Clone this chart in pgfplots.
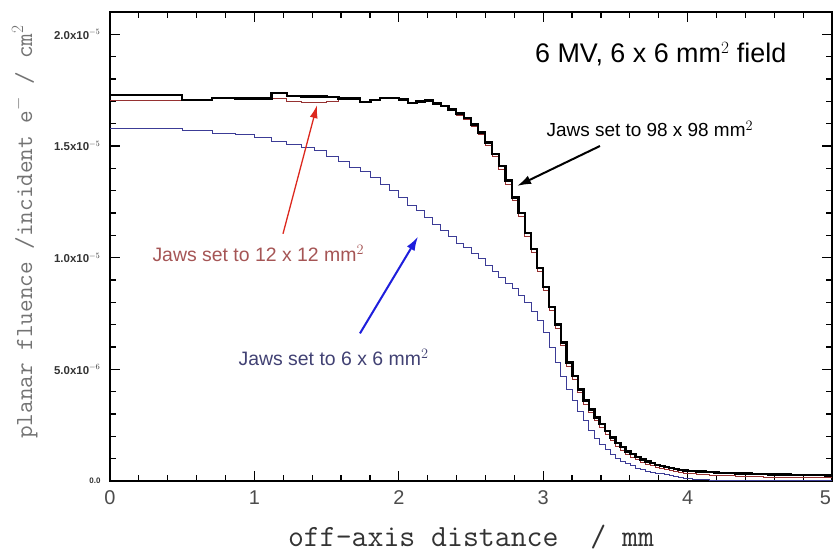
\documentclass[border=0pt]{standalone}
\usepackage{pgfplots}
\pgfplotsset{compat=1.18}
\usepackage{pgfplotstable}
\usepackage{fontspec}
\setmainfont{Liberation Sans}
\usetikzlibrary{arrows.meta,calc}
\definecolor{cred}{RGB}{150,50,50}
\definecolor{cblue}{RGB}{60,60,150}
\definecolor{ared}{RGB}{220,40,30}
\definecolor{ablue}{RGB}{30,30,220}
\definecolor{tred}{RGB}{165,85,85}
\definecolor{tblue}{RGB}{65,65,115}
\pgfplotstableread{
r B R U
0 1.728 1.705 1.580
0.5 1.705 1.705 1.570
0.7071 1.716 1.712 1.556
0.8660 1.713 1.710 1.552
1.0 1.713 1.710 1.537
1.1180 1.738 1.713 1.519
1.2247 1.723 1.700 1.505
1.3229 1.722 1.696 1.492
1.4142 1.722 1.696 1.478
1.5 1.720 1.698 1.455
1.5811 1.713 1.709 1.433
1.6583 1.713 1.709 1.405
1.7321 1.696 1.694 1.385
1.8028 1.705 1.702 1.36
1.8708 1.716 1.712 1.33
1.9365 1.716 1.712 1.30
2.0 1.708 1.704 1.27
2.0616 1.693 1.690 1.235
2.1213 1.700 1.696 1.21
2.1794 1.704 1.700 1.18
2.2361 1.690 1.686 1.15
2.2913 1.680 1.675 1.12
2.3452 1.664 1.658 1.095
2.3979 1.645 1.638 1.065
2.4495 1.625 1.617 1.045
2.5 1.597 1.588 1.02
2.5495 1.560 1.550 0.995
2.5981 1.515 1.503 0.965
2.6458 1.465 1.452 0.94
2.6926 1.41 1.395 0.91
2.7386 1.345 1.33 0.885
2.7839 1.27 1.255 0.86
2.8284 1.20 1.185 0.83
2.8723 1.11 1.095 0.80
2.9155 1.04 1.025 0.76
2.9580 0.955 0.94 0.72
3.0 0.87 0.855 0.665
3.0414 0.78 0.765 0.60
3.0822 0.70 0.685 0.53
3.1225 0.62 0.605 0.47
3.1623 0.53 0.515 0.41
3.2016 0.47 0.455 0.36
3.2404 0.41 0.395 0.31
3.2787 0.36 0.345 0.27
3.3166 0.32 0.305 0.225
3.3541 0.285 0.27 0.19
3.3912 0.255 0.24 0.165
3.4278 0.225 0.21 0.14
3.4641 0.195 0.18 0.12
3.5 0.17 0.155 0.10
3.5355 0.152 0.138 0.088
3.5707 0.133 0.12 0.078
3.6056 0.12 0.107 0.068
3.6401 0.108 0.095 0.058
3.6742 0.097 0.084 0.050
3.7081 0.087 0.075 0.045
3.7417 0.080 0.068 0.040
3.7749 0.073 0.061 0.036
3.8079 0.067 0.055 0.032
3.8406 0.062 0.050 0.028
3.8730 0.058 0.046 0.024
3.9051 0.054 0.042 0.020
3.9370 0.050 0.039 0.016
3.9686 0.047 0.036 0.013
4.0 0.045 0.034 0.010
4.0311 0.044 0.032 0.008
4.0620 0.043 0.031 0.007
4.0927 0.042 0.030 0.006
4.1231 0.040 0.028 0.005
4.1533 0.039 0.027 0.004
4.1833 0.038 0.026 0.004
4.2131 0.037 0.025 0.003
4.2426 0.036 0.024 0.003
4.2720 0.036 0.023 0.003
4.3012 0.035 0.023 0.002
4.3301 0.034 0.022 0.002
4.3589 0.034 0.021 0.002
4.3875 0.033 0.021 0.002
4.4159 0.033 0.020 0.002
4.4441 0.032 0.020 0.002
4.4721 0.032 0.019 0.002
4.5 0.031 0.019 0.002
4.5277 0.031 0.018 0.002
4.5552 0.030 0.018 0.002
4.5826 0.030 0.018 0.002
4.6098 0.030 0.017 0.002
4.6368 0.029 0.017 0.002
4.6637 0.029 0.017 0.002
4.6904 0.029 0.016 0.002
4.7170 0.028 0.016 0.002
4.7434 0.028 0.016 0.002
4.7697 0.028 0.016 0.002
4.7958 0.027 0.015 0.002
4.8218 0.027 0.015 0.002
4.8477 0.027 0.015 0.002
4.8734 0.026 0.015 0.002
4.8990 0.026 0.014 0.002
4.9244 0.026 0.014 0.002
4.9497 0.025 0.014 0.002
4.9749 0.025 0.014 0.002
5.0 0.025 0.014 0.002
}\fluence
\begin{document}
\begin{tikzpicture}
\begin{axis}[
  name=ax,
  scale only axis,
  width=722bp, height=469bp,
  xmin=0, xmax=5, ymin=0, ymax=2.1,
  clip=false,
  axis line style={line width=1.5bp},
  xtick={0,1,2,3,4,5},
  xticklabels={0,1,2,3,4,\makebox[0pt][r]{5\hspace{1bp}}},
  minor x tick num=4,
  ytick={0,0.5,1,1.5,2},
  yticklabels={{\fontsize{8}{9}\selectfont\bfseries 0.0},{5.0x10$^{-6}$},{1.0x10$^{-5}$},{1.5x10$^{-5}$},{2.0x10$^{-5}$}},
  minor y tick num=4,
  tick align=inside,
  major tick length=10bp,
  minor tick length=6bp,
  tick style={line width=1.2bp, black},
  xticklabel style={font=\fontsize{20}{24}\selectfont, text=black!70, yshift=-6bp},
  yticklabel style={font=\fontsize{11.5}{13}\selectfont\bfseries, text=black!80, xshift=-6bp},
  xlabel={off-axis distance\ \ / mm},
  xlabel style={font=\ttfamily\fontsize{31}{34}\selectfont, text=black!80, inner sep=0pt, at={(axis description cs:0.5,-0.119)}, anchor=center},
  ylabel={planar fluence /incident e$^{-}$ / cm$^{2}$},
  ylabel style={font=\ttfamily\fontsize{24.6}{28}\selectfont, text=black!55, inner sep=0pt, at={(axis description cs:-0.118,0.531)}, anchor=center},
]
\addplot[const plot mark left, cblue, line width=0.9bp] table[x=r, y=U] {\fluence};
\addplot[const plot mark left, cred, line width=0.9bp] table[x=r, y=R] {\fluence};
\addplot[const plot mark left, black, line width=2.4bp] table[x=r, y=B] {\fluence};

\node[anchor=west, font=\fontsize{27}{30}\selectfont] at (axis cs:2.92,1.911) {6 MV, 6 x 6 mm$^{2}$ field};
\node[anchor=west, font=\fontsize{19}{22}\selectfont] at (axis cs:3.0,1.576) {Jaws set to 98 x 98 mm$^{2}$};
\node[anchor=west, font=\fontsize{19.5}{22}\selectfont, text=tred] at (axis cs:0.27,1.018) {Jaws set to 12 x 12 mm$^{2}$};
\node[anchor=west, font=\fontsize{19.5}{22}\selectfont, text=tblue] at (axis cs:0.866,0.554) {Jaws set to 6 x 6 mm$^{2}$};
\draw[ared, line width=1.3bp, -{Latex[length=13bp,width=8bp]}] (axis cs:1.198,1.107) -- (axis cs:1.434,1.683);
\draw[ablue, line width=2bp, -{Latex[length=14bp,width=9bp]}] (axis cs:1.731,0.661) -- (axis cs:2.133,1.094);
\draw[black, line width=2bp, -{Latex[length=14bp,width=9bp]}] (axis cs:3.393,1.5) -- (axis cs:2.819,1.321);
\end{axis}
\pgfresetboundingbox
\path[use as bounding box] ($(ax.south west)+(-110bp,-73bp)$) rectangle ($(ax.north east)+(2bp,12bp)$);
\end{tikzpicture}
\end{document}
